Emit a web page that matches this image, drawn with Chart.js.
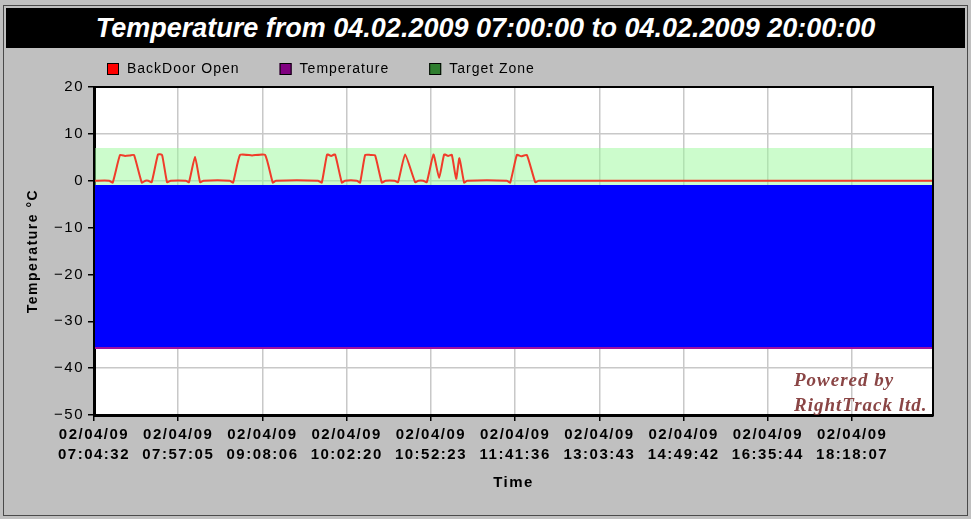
<!DOCTYPE html>
<html lang="en">
<head>
  <meta charset="UTF-8">
  <title>Temperature from 04.02.2009 07:00:00 to 04.02.2009 20:00:00</title>
  <script src="https://cdn.jsdelivr.net/npm/chart.js"></script>
  <style>
    html, body {
      margin: 0;
      padding: 0;
    }
    body {
      width: 971px;
      height: 519px;
      background: #c0c0c0;
      position: relative;
      overflow: hidden;
      font-family: "Liberation Sans", Arial, sans-serif;
    }
    .frame {
      position: absolute;
      left: 3px;
      top: 5px;
      width: 963px;
      height: 509px;
      border: 1px solid #4a4a4a;
    }
    .titlebar {
      position: absolute;
      left: 6px;
      top: 8px;
      width: 959px;
      height: 40px;
      background: #000;
      color: #fff;
      font: italic bold 27px "Liberation Sans", Arial, sans-serif;
      text-align: center;
      line-height: 40px;
    }
    canvas {
      position: absolute;
      left: 0;
      top: 0;
    }
  </style>
</head>
<body>
  <div class="frame"></div>
  <div class="titlebar">Temperature from 04.02.2009 07:00:00 to 04.02.2009 20:00:00</div>
  <canvas id="tempChart" width="971" height="519"></canvas>
  <script>
    // x axis: sample index, one labelled tick every 10 samples
    const tickDates = ['02/04/09', '02/04/09', '02/04/09', '02/04/09', '02/04/09',
                       '02/04/09', '02/04/09', '02/04/09', '02/04/09', '02/04/09'];
    const tickTimes = ['07:04:32', '07:57:05', '09:08:06', '10:02:20', '10:52:23',
                       '11:41:36', '13:03:43', '14:49:42', '16:35:44', '18:18:07'];
    const sampleMax = 99.6;

    // BackDoor Open
    const doorX = [0, 1.8, 2.22, 3.09, 3.68, 4.28, 4.75, 5.67, 6.1,
                   6.45, 6.85, 7.6, 8.08, 8.67, 9.1,
                   10.9, 11.28, 11.99, 12.59, 13.0,
                   16.1, 16.51, 17.34, 18.76, 20.31, 21.22, 21.6,
                   26.6, 27.04, 27.67, 28.15, 28.62, 29.42, 29.8,
                   31.2, 31.59, 32.19, 32.78, 33.37, 34.17, 34.6,
                   35.7, 36.1, 36.93, 38.12, 38.5,
                   39.1, 39.51, 40.3, 40.97, 41.57, 42.04, 42.48, 42.99, 43.38, 43.94, 44.3,
                   49.0, 49.41, 50.2, 50.71, 51.39, 52.38, 52.8,
                   99.6];
    const doorY = [0, 0, -0.4, 5.5, 5.3, 5.4, 5.5, -0.4, 0,
                   0, -0.3, 5.6, 5.5, -0.3, 0,
                   0, -0.3, 5.1, -0.3, 0,
                   0, -0.4, 5.5, 5.4, 5.5, -0.4, 0,
                   0, -0.4, 5.6, 5.3, 5.6, -0.4, 0,
                   0, -0.4, 5.5, 5.5, 5.4, -0.4, 0,
                   0, -0.3, 5.6, -0.3, 0,
                   0, -0.3, 5.6, 0.6, 5.6, 5.3, 5.5, 0.4, 4.8, -0.4, 0,
                   0, -0.4, 5.5, 5.2, 5.5, -0.3, 0,
                   0];

    // Temperature and the blue band above it
    const tempX = [0, 99.6];
    const tempY = [-35.7, -35.7];
    const coldTopY = [-0.9, -0.9];

    // Target zone
    const zoneX = [0, 99.6];
    const zoneHighY = [7, 7];
    const zoneLow = -1;

    const pts = (xs, ys) => xs.map((x, i) => ({ x: x, y: ys[i] }));

    const FONT = '"Liberation Sans", Arial, sans-serif';

    // legend, plot frame and watermark
    const decorations = {
      id: 'decorations',
      beforeDraw(chart) {
        const { ctx, chartArea: a } = chart;
        ctx.fillStyle = '#fff';
        ctx.fillRect(a.left, a.top, a.right - a.left, a.bottom - a.top);
        ctx.letterSpacing = '1.5px';
      },
      afterDatasetsDraw(chart) {
        const { ctx, chartArea: a } = chart;
        ctx.save();
        ctx.strokeStyle = '#000';
        ctx.lineWidth = 2;
        ctx.strokeRect(a.left, a.top, a.right - a.left, a.bottom - a.top);
        ctx.restore();
      },
      afterDraw(chart) {
        const ctx = chart.ctx;
        ctx.save();
        ctx.font = '14px ' + FONT;
        ctx.letterSpacing = '1px';
        ctx.textBaseline = 'middle';
        let x = 107;
        const y = 69;
        chart.data.datasets.forEach(ds => {
          if (!ds.legendColor) return;
          ctx.fillStyle = ds.legendColor;
          ctx.fillRect(x, y - 6, 12, 12);
          ctx.strokeStyle = '#000';
          ctx.lineWidth = 1;
          ctx.strokeRect(x + 0.5, y - 5.5, 11, 11);
          ctx.fillStyle = '#000';
          ctx.fillText(ds.label, x + 20, y);
          x += 20 + ctx.measureText(ds.label).width + 40;
        });

        // watermark
        ctx.font = 'italic bold 19px "Liberation Serif", "Times New Roman", serif';
        ctx.textBaseline = 'alphabetic';
        ctx.fillStyle = '#8a4545';
        ctx.fillText('Powered by', 794, 386);
        ctx.fillText('RightTrack ltd.', 794, 411);
        ctx.restore();
      }
    };

    const ctx = document.getElementById('tempChart').getContext('2d');
    new Chart(ctx, {
      type: 'line',
      data: {
        datasets: [
          {
            label: 'BackDoor Open',
            data: pts(doorX, doorY),
            borderColor: '#f03c2a',
            borderWidth: 2,
            tension: 0.15,
            pointRadius: 0,
            fill: false,
            legendColor: '#ff0000'
          },
          {
            label: 'Temperature',
            data: pts(tempX, tempY),
            borderColor: '#a010a0',
            borderWidth: 2,
            pointRadius: 0,
            fill: false,
            legendColor: '#800080'
          },
          {
            label: '',
            data: pts(tempX, coldTopY),
            borderColor: 'transparent',
            borderWidth: 0,
            pointRadius: 0,
            backgroundColor: '#0000ff',
            fill: 1
          },
          {
            label: 'Target Zone',
            data: pts(zoneX, zoneHighY),
            borderColor: 'transparent',
            borderWidth: 0,
            pointRadius: 0,
            backgroundColor: 'rgba(153, 249, 153, 0.5)',
            fill: { value: zoneLow },
            legendColor: '#2e7d2e'
          }
        ]
      },
      options: {
        responsive: false,
        animation: false,
        layout: {
          padding: { top: 87, right: 38, bottom: 0, left: 0 }
        },
        plugins: {
          legend: { display: false },
          title: { display: false },
          tooltip: { enabled: false }
        },
        scales: {
          x: {
            type: 'linear',
            min: 0,
            max: sampleMax,
            afterFit: s => { s.height = 104; },
            ticks: {
              stepSize: 10,
              includeBounds: false,
              autoSkip: false,
              maxRotation: 0,
              padding: 4,
              color: '#000',
              font: { family: FONT, size: 15, weight: 'bold', lineHeight: '20px' },
              callback: v => {
                const i = Math.round(v / 10);
                return [tickDates[i], tickTimes[i]];
              }
            },
            grid: { color: '#c8c8c8', lineWidth: 1.5, tickColor: '#000', tickLength: 6 },
            border: { color: '#000', width: 3 },
            title: {
              display: true,
              text: 'Time',
              color: '#000',
              font: { family: FONT, size: 15, weight: 'bold' },
              padding: { top: 0, bottom: 27 }
            }
          },
          y: {
            min: -50,
            max: 20,
            afterFit: s => { s.width = 94; },
            ticks: {
              stepSize: 10,
              padding: 4,
              color: '#000',
              font: { family: FONT, size: 15 },
              callback: v => String(v).replace('-', '\u2212')
            },
            grid: { color: '#c8c8c8', lineWidth: 1.5, tickColor: '#000', tickLength: 6 },
            border: { color: '#000', width: 3 },
            title: {
              display: true,
              text: 'Temperature °C',
              color: '#000',
              font: { family: FONT, size: 14, weight: 'bold' },
              padding: { top: 25, bottom: 0 }
            }
          }
        }
      },
      plugins: [decorations]
    });
  </script>
</body>
</html>
